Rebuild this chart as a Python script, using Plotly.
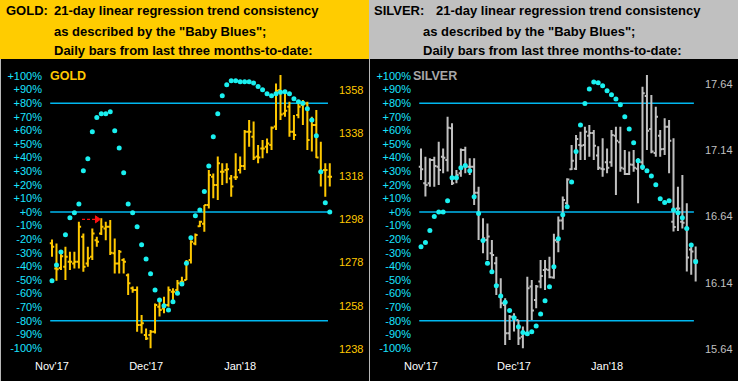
import plotly.graph_objects as go

W, H = 738, 381
def px(x): return x / W
def py(y): return 1 - y / H

FONT = "Liberation Sans, Arial, sans-serif"

# ---------------- data ----------------
day_index = list(range(63))
month_ticks = [0, 21, 42]
month_labels = ["Nov'17", "Dec'17", "Jan'18"]

gold_open = [1287.0, 1275.3, 1275.5, 1276.1, 1278.4, 1277.6, 1278.4, 1290.0, 1277.6, 1280.7,
             1288.4, 1291.5, 1293.8, 1294.6, 1282.3, 1277.6, 1279.2, 1272.2, 1266.1, 1265.3,
             1249.1, 1244.5, 1244.5, 1246.0, 1257.6, 1256.8, 1258.4, 1264.5, 1265.3, 1269.2,
             1269.9, 1279.2, 1286.9, 1294.8, 1296.0, 1304.7, 1317.8, 1313.9, 1320.1, 1320.9,
             1317.0, 1317.5, 1320.9, 1322.7, 1338.6, 1336.3, 1327.1, 1330.9, 1331.7, 1332.5,
             1341.0, 1357.9, 1347.1, 1350.2, 1338.6, 1346.3, 1351.0, 1351.7, 1344.0, 1341.7,
             1320.1, 1320.9, 1317.8]
gold_high = [1288.7, 1286.9, 1283.0, 1285.4, 1283.0, 1283.0, 1296.9, 1291.5, 1285.4, 1293.8,
             1290.0, 1298.6, 1296.9, 1297.7, 1289.2, 1283.8, 1280.0, 1273.0, 1266.9, 1266.9,
             1253.7, 1247.5, 1246.8, 1259.1, 1259.9, 1262.2, 1266.9, 1266.1, 1269.9, 1271.5,
             1279.2, 1288.4, 1291.5, 1297.4, 1304.7, 1320.9, 1319.3, 1327.1, 1324.0, 1324.0,
             1318.6, 1328.6, 1327.1, 1339.4, 1344.0, 1343.3, 1332.5, 1334.8, 1335.5, 1341.0,
             1361.0, 1364.9, 1356.4, 1352.5, 1346.3, 1353.3, 1353.3, 1352.5, 1345.6, 1348.7,
             1334.0, 1324.0, 1324.0]
gold_low = [1280.7, 1269.6, 1274.6, 1269.9, 1274.6, 1275.3, 1275.3, 1273.8, 1276.1, 1279.2,
            1285.4, 1290.8, 1288.4, 1281.5, 1273.0, 1273.0, 1273.0, 1263.0, 1264.1, 1246.0,
            1245.2, 1242.2, 1238.3, 1245.2, 1253.0, 1254.5, 1257.6, 1260.7, 1263.8, 1267.6,
            1269.9, 1277.6, 1286.1, 1294.5, 1292.3, 1303.1, 1307.8, 1307.0, 1313.9, 1314.7,
            1308.5, 1316.3, 1319.3, 1320.9, 1331.7, 1325.5, 1324.0, 1326.3, 1328.6, 1330.1,
            1339.4, 1344.0, 1345.6, 1336.3, 1334.8, 1344.8, 1341.7, 1330.1, 1329.4, 1326.5,
            1313.2, 1308.5, 1313.2]
gold_close = [1285.4, 1274.9, 1281.0, 1280.7, 1278.4, 1278.4, 1294.6, 1276.1, 1280.0, 1291.5,
              1287.7, 1294.6, 1294.6, 1282.6, 1277.6, 1283.0, 1278.4, 1268.4, 1265.3, 1249.1,
              1249.9, 1242.9, 1246.0, 1258.4, 1256.1, 1258.4, 1265.3, 1264.5, 1268.4, 1269.2,
              1278.4, 1287.7, 1290.8, 1296.9, 1304.7, 1318.6, 1313.9, 1324.0, 1320.1, 1321.2,
              1313.2, 1317.5, 1322.7, 1338.6, 1338.6, 1326.7, 1326.7, 1330.9, 1333.2, 1340.5,
              1357.6, 1346.6, 1348.3, 1338.6, 1337.1, 1350.2, 1352.0, 1334.8, 1341.7, 1326.7,
              1320.1, 1320.9, 1317.8]
gold_blues = [-50.5, -39, -29.4, -16.7, -4.2, -0.5, 5.9, 30.4, 39.2, 59,
              69.4, 72.3, 72.3, 73.8, 59.8, 47, 28.9, 5.9, -0.5, -10.8,
              -24, -34.6, -45.4, -57.4, -64.7, -69, -72, -66, -59.8, -53,
              -37.7, -18.9, -2.7, 1.5, 15, 33.8, 55.4, 72.3, 85.5, 93.6,
              96.5, 96.5, 95.8, 95.8, 95.8, 94.9, 92.2, 89.9, 87, 85.5,
              87, 88, 88.5, 87, 83.3, 81.1, 79.9, 76, 67.6, 56.1,
              29.6, 6.8, 0]

silver_open = [17.016, 16.89, 16.89, 17.066, 17.016, 17.091, 17.066, 17.306, 16.928, 16.966,
               17.142, 17.016, 17.016, 16.82, 16.463, 16.463, 16.362, 16.287, 16.035, 15.972,
               15.759, 15.884, 15.859, 15.733, 15.759, 16.111, 16.01, 16.149, 16.237, 16.237,
               16.18, 16.45, 16.61, 16.74, 16.996, 17.0, 17.18, 17.18, 17.25, 17.27,
               17.1, 17.0, 17.05, 17.05, 17.25, 17.2, 17.0, 16.96, 17.03, 17.0,
               17.05, 17.55, 17.3, 17.12, 17.25, 17.15, 17.318, 16.6, 16.7, 16.6,
               16.55, 16.39, 16.31]
silver_high = [17.154, 17.091, 17.079, 17.091, 17.205, 17.154, 17.393, 17.343, 16.991, 17.154,
               17.167, 17.079, 17.079, 16.865, 16.626, 16.588, 16.463, 16.337, 16.174, 16.023,
               15.897, 15.909, 15.859, 15.809, 16.186, 16.161, 16.123, 16.312, 16.312, 16.337,
               16.51, 16.64, 16.79, 16.928, 17.18, 17.255, 17.28, 17.318, 17.33, 17.293,
               17.17, 17.23, 17.154, 17.293, 17.318, 17.318, 17.142, 17.13, 17.142, 17.079,
               17.62, 17.708, 17.557, 17.469, 17.293, 17.381, 17.368, 17.23, 16.865, 16.953,
               16.74, 16.413, 16.413]
silver_low = [16.915, 16.79, 16.865, 16.865, 16.878, 16.966, 16.98, 16.878, 16.89, 16.94,
              16.966, 16.953, 16.727, 16.463, 16.362, 16.312, 16.211, 16.048, 15.947, 15.67,
              15.708, 15.771, 15.67, 15.645, 15.746, 15.859, 15.947, 16.098, 16.086, 16.174,
              16.17, 16.37, 16.54, 16.714, 16.99, 16.99, 17.066, 17.066, 17.09, 17.066,
              16.99, 16.94, 16.966, 17.016, 16.802, 16.978, 16.953, 16.953, 16.978, 16.74,
              16.99, 17.142, 17.117, 17.091, 17.091, 17.104, 16.966, 16.526, 16.53, 16.55,
              16.224, 16.2, 16.149]
silver_close = [16.996, 16.878, 17.066, 17.021, 16.991, 17.084, 17.31, 16.89, 16.953, 17.142,
                17.016, 17.016, 16.82, 16.664, 16.476, 16.488, 16.35, 16.123, 15.985, 15.759,
                15.884, 15.879, 15.721, 15.759, 16.098, 15.93, 16.111, 16.191, 16.242, 16.181,
                16.46, 16.61, 16.764, 16.92, 17.06, 17.225, 17.174, 17.28, 17.27, 17.174,
                17.008, 16.996, 17.008, 17.255, 17.212, 17.008, 16.961, 17.033, 17.008, 17.054,
                17.57, 17.288, 17.13, 17.393, 17.147, 17.318, 17.212, 16.56, 16.701, 16.593,
                16.33, 16.375, 16.307]
silver_blues = [-25.5, -22.5, -13.7, -3.4, 0, 0, 8.3, 25.2, 25.2, 32.6,
                34.1, 30.4, 11.3, -1.2, -21, -37.7, -43.9, -54.2, -61.8, -66.4,
                -72.5, -77.7, -84.3, -88.7, -89.5, -88, -83.8, -75, -65.2, -54.9,
                -40.2, -19.6, -2, 3.9, 22, 44.4, 64, 79.7, 90.4, 95.6,
                95.1, 92.9, 89.2, 86.3, 83.1, 78.9, 70.1, 61, 51, 37.7,
                33.1, 30.4, 26.5, 20.1, 9.8, 6.9, 8.3, 1.5, -0.5, -4.2,
                -12.2, -24.3, -36.5]

pct_ticks = list(range(-100, 101, 10))
pct_labels = [("+%d%%" % v) if v >= 0 else ("%d%%" % v) for v in pct_ticks]
gold_ticks = [1238, 1258, 1278, 1298, 1318, 1338, 1358]
silver_ticks = [15.64, 16.14, 16.64, 17.14, 17.64]
silver_tick_labels = ["15.64", "16.14", "16.64", "17.14", "17.64"]
levels = [80, 0, -80]

header_lines = ["21-day linear regression trend consistency",
                'as described by the "Baby Blues";',
                "Daily bars from last three months-to-date:"]

# ---------------- styles ----------------
GOLD = "#FFC800"
GOLD_HDR = "#FFCC00"
SILV = "#C0C0C0"
CYAN_TXT = "#19E3FF"
CYAN_DOT = "#1AF0F0"
CYAN_LINE = "#00B8F0"

fig = go.Figure()

fig.add_trace(go.Ohlc(x=day_index, open=gold_open, high=gold_high, low=gold_low, close=gold_close,
                      xaxis="x", yaxis="y", tickwidth=0.5,
                      increasing=dict(line=dict(color=GOLD, width=2)),
                      decreasing=dict(line=dict(color=GOLD, width=2)),
                      hoverinfo="skip", showlegend=False))
fig.add_trace(go.Scatter(x=day_index, y=gold_blues, mode="markers", xaxis="x", yaxis="y2",
                         marker=dict(color=CYAN_DOT, size=5), hoverinfo="skip", showlegend=False))
fig.add_trace(go.Ohlc(x=day_index, open=silver_open, high=silver_high, low=silver_low, close=silver_close,
                      xaxis="x2", yaxis="y3", tickwidth=0.5,
                      increasing=dict(line=dict(color=SILV, width=2)),
                      decreasing=dict(line=dict(color=SILV, width=2)),
                      hoverinfo="skip", showlegend=False))
fig.add_trace(go.Scatter(x=day_index, y=silver_blues, mode="markers", xaxis="x2", yaxis="y4",
                         marker=dict(color=CYAN_DOT, size=5), hoverinfo="skip", showlegend=False))

ydom = [py(356), py(62)]
pct_range = [-105.9, 110.3]

xcommon = dict(showgrid=False, zeroline=False, showline=False, ticks="", automargin=False,
               tickvals=month_ticks, ticktext=month_labels,
               tickfont=dict(family=FONT, size=11, color="white"),
               rangeslider=dict(visible=False), ticklabelstandoff=2)
ycommon = dict(showgrid=False, zeroline=False, showline=False, ticks="", automargin=False)

fig.update_layout(
    template="none",
    width=W, height=H, margin=dict(l=0, r=0, t=0, b=0, pad=0), autosize=False,
    paper_bgcolor="black", plot_bgcolor="black", showlegend=False,
    xaxis=dict(domain=[px(46), px(336)], range=[-1.339, 63.39], anchor="y", **xcommon),
    xaxis2=dict(domain=[px(415), px(702)], range=[-1.354, 63.43], anchor="y3", **xcommon),
    yaxis=dict(domain=ydom, range=[1234.76, 1370.9], side="right", anchor="x",
               tickvals=gold_ticks, ticktext=[str(v) for v in gold_ticks],
               tickfont=dict(family=FONT, size=11, color=GOLD), ticklabelstandoff=2, **ycommon),
    yaxis2=dict(range=pct_range, overlaying="y", side="left", anchor="x",
                tickvals=pct_ticks, ticktext=pct_labels,
                tickfont=dict(family=FONT, size=11, color=CYAN_TXT), ticklabelstandoff=3, **ycommon),
    yaxis3=dict(domain=ydom, range=[15.587, 17.806], side="right", anchor="x2",
                tickvals=silver_ticks, ticktext=silver_tick_labels,
                tickfont=dict(family=FONT, size=11, color=SILV), ticklabelstandoff=2, **ycommon),
    yaxis4=dict(range=pct_range, overlaying="y3", side="left", anchor="x2",
                tickvals=pct_ticks, ticktext=pct_labels,
                tickfont=dict(family=FONT, size=11, color=CYAN_TXT), ticklabelstandoff=3, **ycommon),
)

shapes = []
# header backgrounds
shapes.append(dict(type="rect", xref="paper", yref="paper", x0=0, x1=px(369), y0=py(59), y1=1,
                   fillcolor=GOLD_HDR, line=dict(width=0), layer="below"))
shapes.append(dict(type="rect", xref="paper", yref="paper", x0=px(369), x1=1, y0=py(59), y1=1,
                   fillcolor=SILV, line=dict(width=0), layer="below"))
# divider and left border
shapes.append(dict(type="line", xref="paper", yref="paper", x0=px(369.5), x1=px(369.5), y0=0, y1=py(59),
                   line=dict(color="#B8B8B8", width=1)))
shapes.append(dict(type="line", xref="paper", yref="paper", x0=px(0.5), x1=px(0.5), y0=0, y1=py(59),
                   line=dict(color="#B8B8B8", width=1)))
# baby-blues levels
for xr, yr in (("x", "y2"), ("x2", "y4")):
    for lv in levels:
        shapes.append(dict(type="line", xref=xr, yref=yr, x0=-0.4, x1=61.6, y0=lv, y1=lv,
                           line=dict(color=CYAN_LINE, width=1.5), layer="below"))
# red dashed arrow (gold panel)
shapes.append(dict(type="line", xref="x", yref="y2", x0=6.7, x1=10.2, y0=-5.4, y1=-5.4,
                   line=dict(color="#FF1010", width=1.3, dash="3px,2px")))
shapes.append(dict(type="path", xref="x", yref="y2", path="M 9.7,-2.8 L 10.8,-5.4 L 9.7,-8.0 Z",
                   fillcolor="#FF1010", line=dict(color="#FF1010", width=1)))
fig.update_layout(shapes=shapes)

ann = []
def txt(x, y, s, size=13, color="black", bold=True):
    ann.append(dict(xref="paper", yref="paper", x=px(x), y=py(y), text=("<b>%s</b>" % s) if bold else s,
                    showarrow=False, xanchor="left", yanchor="middle",
                    font=dict(family=FONT, size=size, color=color)))

txt(4, 11, "GOLD:")
txt(52, 11, header_lines[0])
txt(52, 31, header_lines[1])
txt(52, 50.5, header_lines[2])
txt(372, 11, "SILVER:")
txt(434, 11, header_lines[0])
txt(421, 31, header_lines[1])
txt(421, 50.5, header_lines[2])
txt(48, 76, "GOLD", size=12.5, color=GOLD)
txt(411, 76, "SILVER", size=12.5, color="#A8A8A8")
fig.update_layout(annotations=ann)

fig.write_html("out.html", config={"displayModeBar": False},
               post_script="document.body.style.margin='0';document.body.style.background='black';")
